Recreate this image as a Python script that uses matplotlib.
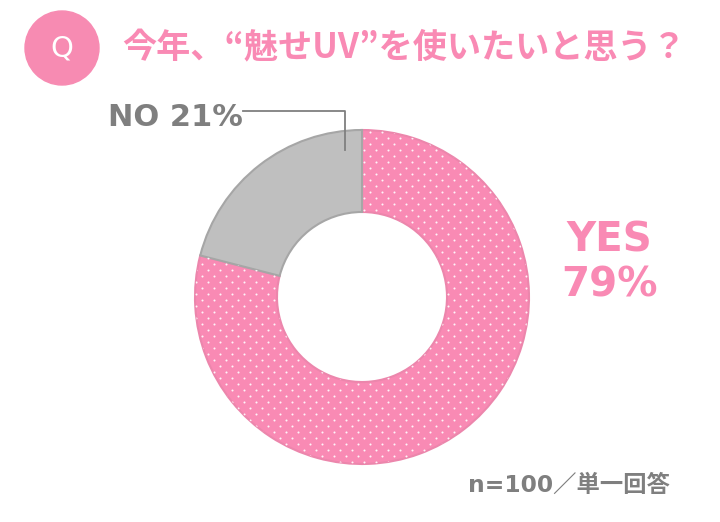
import numpy as np
import matplotlib

matplotlib.use("Agg")
import matplotlib.pyplot as plt
from matplotlib.patches import Circle

labels = ["YES", "NO"]
shares = [79, 21]
title = "今年、“魅せUV”を使いたいと思う？"
footnote = "n=100／単一回答"

W, H = 720, 522
PINK = "#F98AB4"
PINK_EDGE = "#EC86AC"
GREY = "#BFBFBF"
GREY_EDGE = "#A6A6A6"
TEXT_GREY = "#7F7F7F"
JP = ["Noto Sans CJK JP", "DejaVu Sans"]
LATIN = ["DejaVu Sans", "Noto Sans CJK JP"]


def y(py: float) -> float:
    # pixel row from top -> data y
    return H - py


fig = plt.figure(figsize=(7.2, 5.22), dpi=100)
ax = fig.add_axes([0, 0, 1, 1])

center = (362, y(297))
radius = 167
ring = 1 - 85 / 167

wedges, _ = ax.pie(
    shares,
    colors=[PINK, GREY],
    startangle=90,
    counterclock=False,
    center=center,
    radius=radius,
    wedgeprops=dict(width=radius * ring, linewidth=1.5),
    frame=True,
)
wedges[0].set_edgecolor(PINK_EDGE)
wedges[1].set_edgecolor(GREY_EDGE)

# white dot pattern on the pink part, clipped to the wedge
step = 12
gx, gy = np.meshgrid(np.arange(190, 540, step), np.arange(120, 475, step / 2))
gx = gx + (np.arange(gx.shape[0])[:, None] % 2) * step / 2
pts = ax.scatter(gx.ravel(), y(gy.ravel()), s=2.2, color="white", alpha=0.9,
                 linewidths=0, zorder=wedges[0].get_zorder() + 0.1)
pts.set_clip_path(wedges[0])

ax.set_xlim(0, W)
ax.set_ylim(0, H)
ax.set_aspect("equal")
ax.axis("off")

# header
ax.add_patch(Circle((62, y(48)), 37, color="#F78BB2", zorder=3))
ax.text(62, y(49), "Q", color="white", fontsize=21, ha="center", va="center",
        family=LATIN, zorder=4)
ax.text(122, y(48), title, color=PINK, fontsize=24.6, fontweight="bold",
        ha="left", va="center", family=JP)

# labels
ax.text(609, y(263), f"{labels[0]}\n{shares[0]}%", color=PINK, fontsize=29,
        fontweight="bold", ha="center", va="center", linespacing=1.15, family=LATIN)
ax.text(108, y(117), f"{labels[1]} {shares[1]}%", color=TEXT_GREY, fontsize=22,
        fontweight="bold", ha="left", va="center", family=LATIN)
ax.plot([243, 345, 345], [y(111), y(111), y(150)], color=TEXT_GREY, linewidth=1.3)

ax.text(670, y(485), footnote, color=TEXT_GREY, fontsize=16.8, fontweight="bold",
        ha="right", va="center", family=LATIN)

fig.savefig("out.png", dpi=100)
